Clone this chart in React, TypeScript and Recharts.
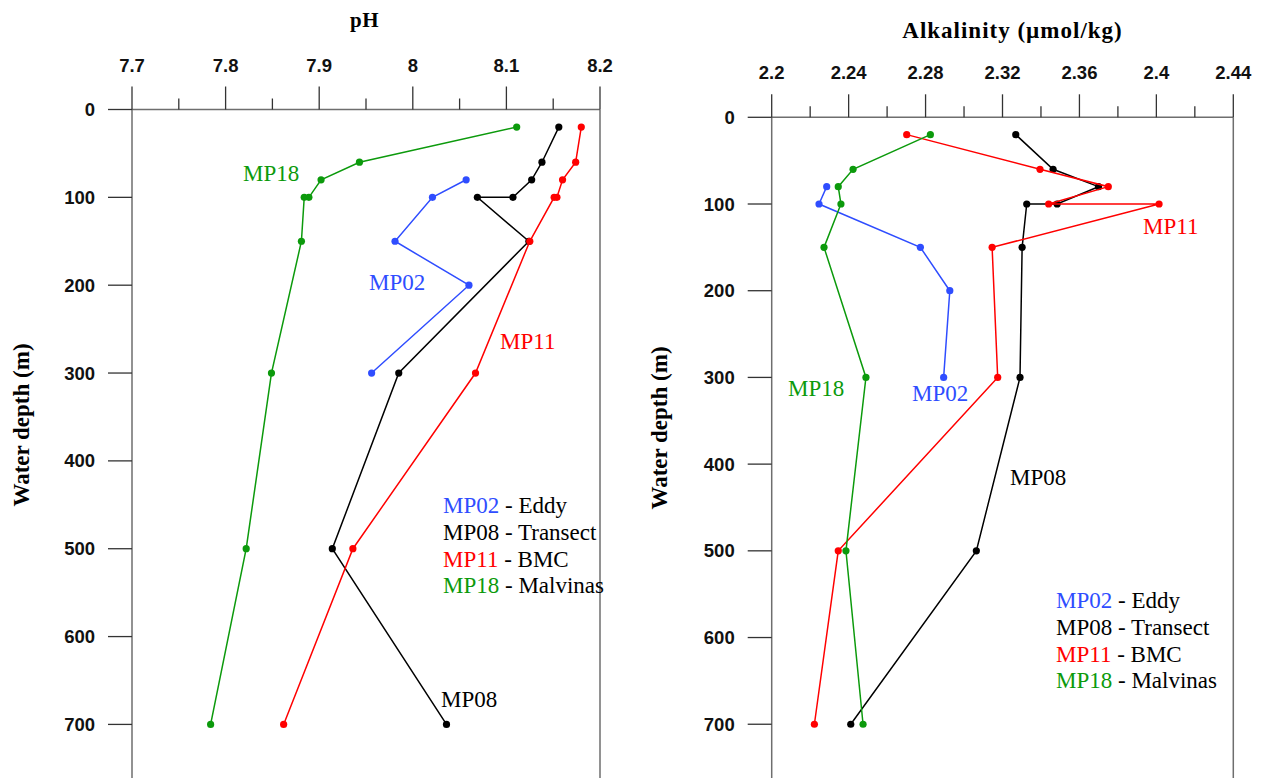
import { ScatterChart, Scatter, XAxis, YAxis, ReferenceLine } from 'recharts';

// depth profiles (depth in m)
const phDepthMP02 = [80, 100, 150, 200, 300];
const phMP02 = [8.057, 8.021, 7.981, 8.06, 7.956];
const phDepthMP08 = [20, 60, 80, 100, 100, 150, 300, 500, 700];
const phMP08 = [8.156, 8.138, 8.127, 8.107, 8.069, 8.124, 7.985, 7.914, 8.036];
const phDepthMP11 = [20, 60, 80, 100, 100, 150, 300, 500, 700];
const phMP11 = [8.18, 8.174, 8.16, 8.154, 8.151, 8.125, 8.067, 7.936, 7.862];
const phDepthMP18 = [20, 60, 80, 100, 100, 150, 300, 500, 700];
const phMP18 = [8.111, 7.943, 7.902, 7.889, 7.884, 7.881, 7.849, 7.822, 7.784];

const alkDepthMP02 = [80, 100, 150, 200, 300];
const alkMP02 = [2.2286, 2.2246, 2.2773, 2.2926, 2.2894];
const alkDepthMP08 = [20, 60, 80, 100, 100, 150, 300, 500, 700];
const alkMP08 = [2.3269, 2.3463, 2.3699, 2.3484, 2.3326, 2.3302, 2.3291, 2.3064, 2.2411];
const alkDepthMP11 = [20, 60, 80, 100, 100, 150, 300, 500, 700];
const alkMP11 = [2.2702, 2.3395, 2.375, 2.344, 2.4014, 2.3146, 2.3175, 2.2346, 2.2222];
const alkDepthMP18 = [20, 60, 80, 100, 150, 300, 500, 700];
const alkMP18 = [2.2825, 2.2423, 2.2346, 2.236, 2.2272, 2.249, 2.2386, 2.2475];

const depthTicks = [0, 100, 200, 300, 400, 500, 600, 700];
const phTicks = [7.7, 7.75, 7.8, 7.85, 7.9, 7.95, 8, 8.05, 8.1, 8.15, 8.2];
const phTickLabels = ['7.7', '', '7.8', '', '7.9', '', '8', '', '8.1', '', '8.2'];
const alkTicks = [2.2, 2.22, 2.24, 2.26, 2.28, 2.3, 2.32, 2.34, 2.36, 2.38, 2.4, 2.42, 2.44];
const alkTickLabels = ['2.2', '', '2.24', '', '2.28', '', '2.32', '', '2.36', '', '2.4', '', '2.44'];

const stations = ['MP02', 'MP08', 'MP11', 'MP18'];
const stationNames = ['Eddy', 'Transect', 'BMC', 'Malvinas'];
const colors = ['#2f4dff', '#000000', '#ff0000', '#0c9a0c'];

const toPoints = (depths: number[], values: number[]) =>
  depths.map((d, i) => ({ x: values[i], y: d }));

const phSeries = [
  toPoints(phDepthMP02, phMP02),
  toPoints(phDepthMP08, phMP08),
  toPoints(phDepthMP11, phMP11),
  toPoints(phDepthMP18, phMP18),
];
const alkSeries = [
  toPoints(alkDepthMP02, alkMP02),
  toPoints(alkDepthMP08, alkMP08),
  toPoints(alkDepthMP11, alkMP11),
  toPoints(alkDepthMP18, alkMP18),
];

const AXIS = '#6e6e6e';
const TICK = '#333';
const tickFont = { fontFamily: '"Liberation Sans", Arial, sans-serif', fontWeight: 700, fontSize: 18.5 };
const serif = '"Liberation Serif", "Times New Roman", serif';

const makeTopTick = (labels: string[]) => (props: any) => {
  const { x, y, index } = props;
  const label = labels[index];
  const len = label ? 23 : 11;
  return (
    <g>
      <line x1={x} x2={x} y1={y} y2={y - len} stroke={TICK} strokeWidth={1.3} />
      {label && (
        <text x={x} y={y - 38} textAnchor="middle" fill="#111" {...tickFont}>
          {label}
        </text>
      )}
    </g>
  );
};

const LeftTick = (props: any) => {
  const { x, y, payload } = props;
  return (
    <g>
      <line x1={x - 24} x2={x} y1={y} y2={y} stroke={TICK} strokeWidth={1.3} />
      <text x={x - 37} y={y + 6.5} textAnchor="end" fill="#111" {...tickFont}>
        {payload.value}
      </text>
    </g>
  );
};

const dot = (color: string) => (props: any) => (
  <circle cx={props.cx} cy={props.cy} r={3.6} fill={color} />
);

interface PanelProps {
  series: Array<Array<{ x: number; y: number }>>;
  xDomain: [number, number];
  xTicks: number[];
  xLabels: string[];
  yMax: number;
  width: number;
  axisWidth: number;
  axisHeight: number;
  marginRight: number;
}

const Panel = ({ series, xDomain, xTicks, xLabels, yMax, width, axisWidth, axisHeight, marginRight }: PanelProps) => (
  <ScatterChart
    width={width}
    height={778}
    margin={{ top: 0, right: marginRight, bottom: 0, left: 0 }}
  >
    <XAxis
      type="number"
      dataKey="x"
      orientation="top"
      domain={xDomain}
      ticks={xTicks}
      interval={0}
      allowDataOverflow
      height={axisHeight}
      tickSize={0}
      tickMargin={0}
      tickLine={false}
      axisLine={{ stroke: AXIS, strokeWidth: 1.5 }}
      tick={makeTopTick(xLabels)}
    />
    <YAxis
      type="number"
      dataKey="y"
      reversed
      domain={[0, yMax]}
      ticks={depthTicks}
      interval={0}
      allowDataOverflow
      width={axisWidth}
      tickSize={0}
      tickMargin={0}
      tickLine={false}
      axisLine={{ stroke: AXIS, strokeWidth: 1.5 }}
      tick={LeftTick}
    />
    {/* right-hand frame of the plot box */}
    <ReferenceLine x={xDomain[1]} stroke={AXIS} strokeWidth={1.5} ifOverflow="visible" />
    {series.map((data, i) => (
      <Scatter
        key={stations[i]}
        name={stations[i]}
        data={data}
        fill={colors[i]}
        line={{ stroke: colors[i], strokeWidth: 1.5 }}
        lineType="joint"
        shape={dot(colors[i])}
        isAnimationActive={false}
      />
    ))}
  </ScatterChart>
);

const labelStyle = { fontFamily: serif, fontSize: 23 };

const Legend = ({ x, y }: { x: number; y: number }) => (
  <text x={x} y={y} {...labelStyle}>
    {stations.map((s, i) => (
      <tspan key={s} x={x} y={y + i * 26.8}>
        <tspan fill={colors[i]}>{s}</tspan>
        <tspan fill="#000">{` - ${stationNames[i]}`}</tspan>
      </tspan>
    ))}
  </text>
);

export default function App() {
  return (
    <div style={{ position: 'fixed', left: 0, top: 0, width: 1265, height: 778, background: '#fff', overflow: 'hidden' }}>
      <div style={{ position: 'absolute', left: 0, top: 0 }}>
        <Panel
          series={phSeries}
          xDomain={[7.7, 8.2]}
          xTicks={phTicks}
          xLabels={phTickLabels}
          yMax={761}
          width={620}
          axisWidth={132}
          axisHeight={109.5}
          marginRight={20}
        />
      </div>
      <div style={{ position: 'absolute', left: 620, top: 0 }}>
        <Panel
          series={alkSeries}
          xDomain={[2.2, 2.44]}
          xTicks={alkTicks}
          xLabels={alkTickLabels}
          yMax={762}
          width={645}
          axisWidth={151.7}
          axisHeight={117.3}
          marginRight={31.7}
        />
      </div>
      <svg
        width={1265}
        height={778}
        style={{ position: 'absolute', left: 0, top: 0, pointerEvents: 'none' }}
      >
        <text x={364.5} y={27} textAnchor="middle" fontFamily={serif} fontWeight={700} fontSize={21} letterSpacing={0.5}>
          pH
        </text>
        <text x={1012.5} y={38} textAnchor="middle" fontFamily={serif} fontWeight={700} fontSize={23} letterSpacing={1}>
          Alkalinity (µmol/kg)
        </text>
        <text x={29} y={425} textAnchor="middle" fontFamily={serif} fontWeight={700} fontSize={23} transform="rotate(-90 29 425)">
          Water depth (m)
        </text>
        <text x={667} y={428} textAnchor="middle" fontFamily={serif} fontWeight={700} fontSize={23} transform="rotate(-90 667 428)">
          Water depth (m)
        </text>

        <text x={243} y={181} fill={colors[3]} {...labelStyle}>MP18</text>
        <text x={369} y={290} fill={colors[0]} {...labelStyle}>MP02</text>
        <text x={500} y={349} fill={colors[2]} {...labelStyle}>MP11</text>
        <text x={441} y={707} fill={colors[1]} {...labelStyle}>MP08</text>
        <Legend x={443} y={513} />

        <text x={1143} y={234} fill={colors[2]} {...labelStyle}>MP11</text>
        <text x={788} y={396} fill={colors[3]} {...labelStyle}>MP18</text>
        <text x={912} y={401} fill={colors[0]} {...labelStyle}>MP02</text>
        <text x={1010} y={485} fill={colors[1]} {...labelStyle}>MP08</text>
        <Legend x={1056} y={608} />
      </svg>
    </div>
  );
}
